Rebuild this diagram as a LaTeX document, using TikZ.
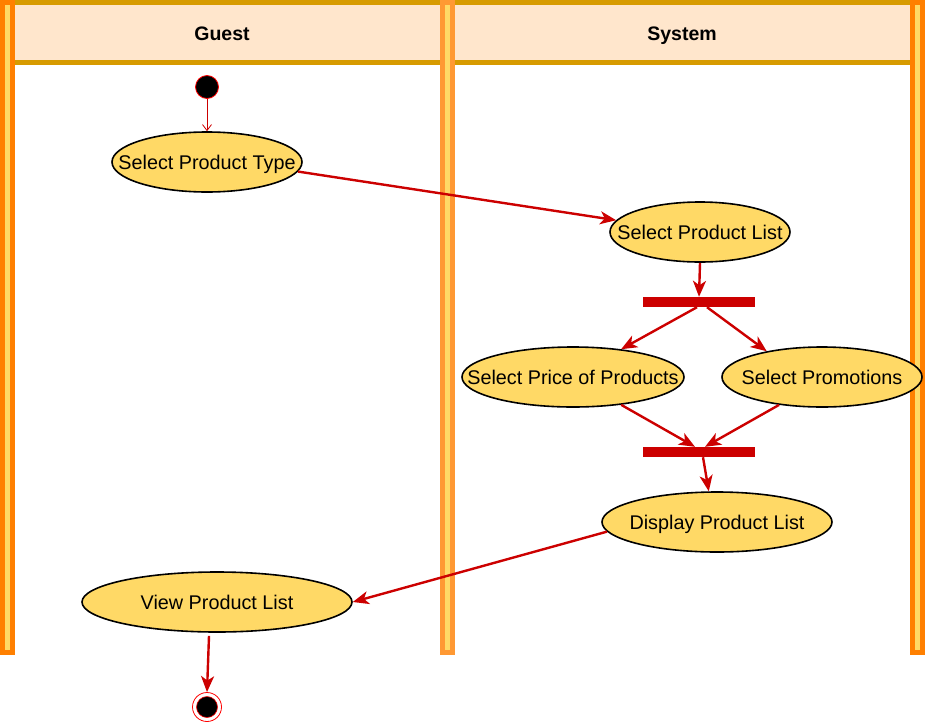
\documentclass[tikz,border=0pt]{standalone}
\usepackage{fontspec}
\setmainfont{Liberation Sans}
\usetikzlibrary{shapes.geometric,arrows.meta,calc}
\definecolor{laneorange}{HTML}{FF8000}
\definecolor{lanelight}{HTML}{FF9933}
\definecolor{laneyellow}{HTML}{FFD966}
\definecolor{headfill}{HTML}{FFE6CC}
\definecolor{headline}{HTML}{D79B00}
\definecolor{flowred}{HTML}{CC0000}
\definecolor{actfill}{HTML}{FFD966}
\newcommand{\Lane}[2]{
	%outer bar
	\fill[#2](#1,0) rectangle ++(15,655);
	%inner stripe
	\fill[laneyellow](#1+5,5) rectangle ++(5,645);
}
\newcommand{\Activity}[5]{
	\node[activity,minimum width=#4] (#1) at (#2,#3) {\makebox[0pt]{#5}};
}

\begin{document}
\begin{tikzpicture}[x=1pt,y=-1pt,
	activity/.style={ellipse,draw=black,line width=1.6pt,fill=actfill,minimum height=60,inner sep=0pt,
		text height=14pt,text depth=0pt,font=\fontsize{19.8}{23}\selectfont},
	flow/.style={draw=flowred,line width=2.4pt,-{Stealth[length=16pt,width=13pt,inset=4.5pt]}},
	bar/.style={rectangle,fill=flowred,minimum width=112,minimum height=10,inner sep=0pt},
	title/.style={text height=14pt,text depth=0pt,font=\fontsize{19.5}{23}\selectfont\bfseries}]
\useasboundingbox (0,0) rectangle (925,723);
%header
\fill[headfill](0,5) rectangle (925,60);
\fill[headline](0,0) rectangle (925,5);
\fill[headline](0,60) rectangle (925,65);
\node[title] (guest) at (222,33) {Guest};
\node[title] (system) at (682,33) {System};
%lanes
\Lane{0}{laneorange}
\Lane{440}{lanelight}
\Lane{910}{laneorange}
%start and end
\node[circle,fill=black,draw=red,line width=0.8pt,minimum size=23,inner sep=0pt] (start) at (207,87) {};
\node[circle,draw=red,line width=0.8pt,minimum size=29,inner sep=0pt] (stop) at (207,707) {};
\filldraw[fill=black,draw=red,line width=0.6pt](stop) circle(10.5);
%activities
\Activity{type}{207}{162}{190}{Select Product Type}
\Activity{list}{700}{232}{180}{Select Product List}
\Activity{price}{573}{377}{222}{Select Price of Products}
\Activity{promo}{822}{377}{200}{Select Promotions}
\Activity{display}{717}{522}{230}{Display Product List}
\Activity{view}{217}{602}{270}{View Product List}
%fork and join
\node[bar] (fork) at (699,302) {};
\node[bar] (join) at (699,452) {};
%flows
\draw[draw=flowred,line width=0.8pt,-{Straight Barb[length=6pt,width=9pt]}](start.south)--(type.north);
\draw[flow](type.-6)--(list.172);
\draw[flow](list.south)--(fork.north);
\draw[flow]([xshift=-2pt]fork.south)--(price.30);
\draw[flow]([xshift=8pt]fork.south)--(promo.155);
\draw[flow](price.-30)--([xshift=-4pt]join.north);
\draw[flow](promo.-147)--([xshift=6pt]join.north);
\draw[flow]([xshift=4pt]join.south)--(display.105);
\draw[flow](display.185)--(view.east);
\draw[flow]([xshift=-8pt,yshift=-3pt]view.south)--(stop.north);
\end{tikzpicture}
\end{document}
